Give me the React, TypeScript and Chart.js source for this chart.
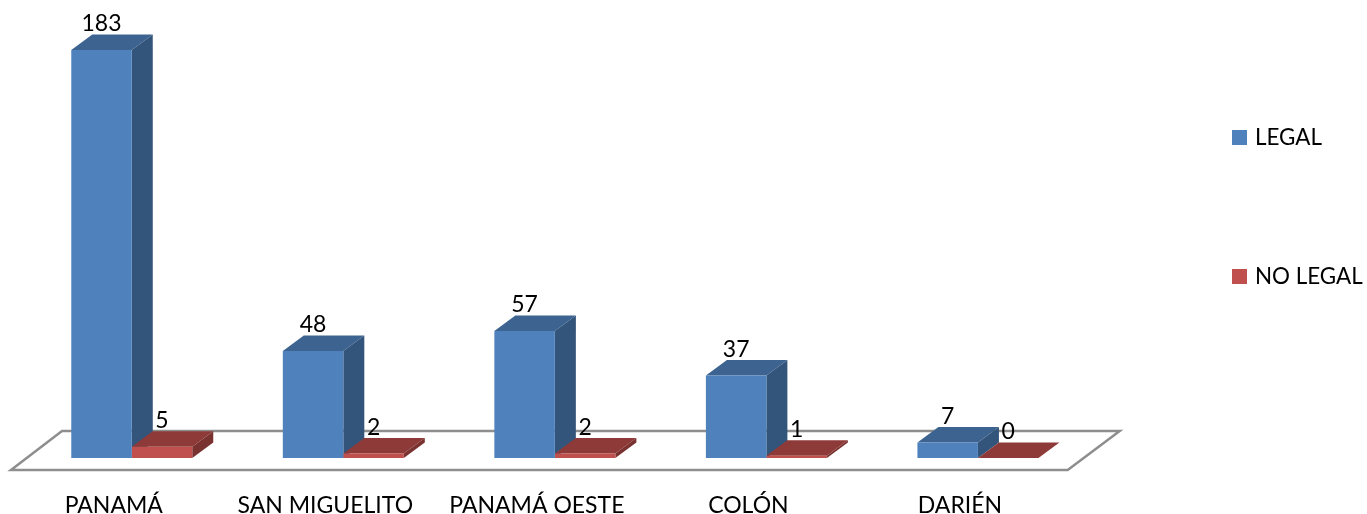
import React, { useEffect, useRef } from "react";
import { Chart, registerables } from "chart.js";

Chart.register(...registerables);

const categories = ["PANAMÁ", "SAN MIGUELITO", "PANAMÁ OESTE", "COLÓN", "DARIÉN"];
const legalValues = [183, 48, 57, 37, 7];
const noLegalValues = [5, 2, 2, 1, 0];

const FONT = "Lato, 'Open Sans', sans-serif";
const FONT_SIZE = 23;
const DEPTH_X = 21;
const DEPTH_Y = 15.5;

const faces = [
  { front: "#4f81bd", top: "#3d6491", side: "#33547b" },
  { front: "#c0504d", top: "#8e3a38", side: "#7a3230" },
];

const poly = (ctx: CanvasRenderingContext2D, pts: number[][], fill: string) => {
  ctx.beginPath();
  pts.forEach((p, i) => (i ? ctx.lineTo(p[0], p[1]) : ctx.moveTo(p[0], p[1])));
  ctx.closePath();
  ctx.fillStyle = fill;
  ctx.fill();
};

const threeD = {
  id: "threeD",
  beforeDatasetsDraw(chart: any) {
    const { ctx, chartArea: a } = chart;
    const base = chart.scales.y.getPixelForValue(0);
    // floor
    ctx.save();
    ctx.beginPath();
    ctx.moveTo(a.left - 15, base + 12);
    ctx.lineTo(a.right - 16, base + 12);
    ctx.lineTo(a.right + 36, base - 27);
    ctx.lineTo(a.left + 36, base - 27);
    ctx.closePath();
    ctx.strokeStyle = "#8e8e8e";
    ctx.lineWidth = 2.5;
    ctx.stroke();
    // depth faces
    chart.data.datasets.forEach((_: any, di: number) => {
      const f = faces[di];
      chart.getDatasetMeta(di).data.forEach((el: any) => {
        const l = el.x - el.width / 2;
        const r = el.x + el.width / 2;
        const t = el.y;
        poly(ctx, [[l, t], [r, t], [r + DEPTH_X, t - DEPTH_Y], [l + DEPTH_X, t - DEPTH_Y]], f.top);
        poly(ctx, [[r, t], [r + DEPTH_X, t - DEPTH_Y], [r + DEPTH_X, base - DEPTH_Y], [r, base]], f.side);
      });
    });
    ctx.restore();
  },
  afterDatasetsDraw(chart: any) {
    const { ctx } = chart;
    ctx.save();
    ctx.font = `${FONT_SIZE}px ${FONT}`;
    ctx.fillStyle = "#000";
    ctx.textAlign = "center";
    ctx.textBaseline = "middle";
    chart.data.datasets.forEach((ds: any, di: number) => {
      chart.getDatasetMeta(di).data.forEach((el: any, i: number) => {
        ctx.fillText(String(ds.data[i]), el.x, el.y - 26);
      });
    });
    // legend
    const tops = [130, 269];
    ctx.textAlign = "left";
    ctx.font = `22.4px ${FONT}`;
    chart.data.datasets.forEach((ds: any, di: number) => {
      ctx.fillStyle = ds.backgroundColor;
      ctx.fillRect(1232, tops[di], 15, 15);
      ctx.fillStyle = "#000";
      ctx.fillText(ds.label, 1255, tops[di] + 8);
    });
    ctx.restore();
  },
};

export default function App() {
  const ref = useRef<HTMLCanvasElement>(null);
  useEffect(() => {
    const chart = new Chart(ref.current!, {
      type: "bar",
      data: {
        labels: categories,
        datasets: [
          { label: "LEGAL", data: legalValues, backgroundColor: faces[0].front, borderWidth: 0 },
          { label: "NO LEGAL", data: noLegalValues, backgroundColor: faces[1].front, borderWidth: 0 },
        ],
      },
      options: {
        responsive: false,
        animation: false,
        layout: { padding: { left: 26, right: 283.3, top: 12, bottom: 0 }, autoPadding: false },
        datasets: { bar: { categoryPercentage: 0.572, barPercentage: 1 } },
        plugins: { legend: { display: false }, title: { display: false }, tooltip: { enabled: false } },
        scales: {
          x: {
            grid: { display: false },
            border: { display: false },
            afterFit: (s: any) => { s.height = 56; },
            ticks: {
              color: "#000",
              font: { family: FONT, size: FONT_SIZE },
              padding: 26,
              labelOffset: -18,
              maxRotation: 0,
              minRotation: 0,
              autoSkip: false,
            },
          },
          y: { display: false, min: 0, max: 200 },
        },
      },
      plugins: [threeD],
    } as any);
    return () => chart.destroy();
  }, []);
  return (
    <div style={{ position: "absolute", left: 0, top: 0, width: 1367, height: 514 }}>
      <canvas ref={ref} width={1367} height={514} style={{ display: "block" }} />
    </div>
  );
}
